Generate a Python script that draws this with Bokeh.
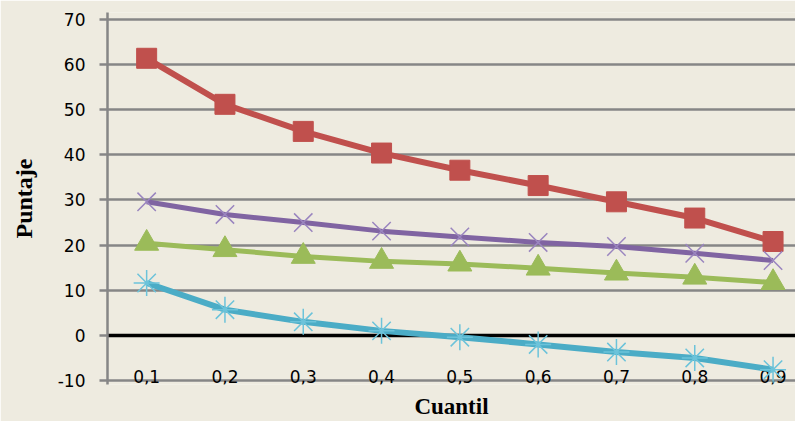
from bokeh.plotting import figure
from bokeh.models import Range1d, FixedTicker, Span, ColumnDataSource
from bokeh.core.properties import value
from bokeh.embed import file_html
from bokeh.resources import INLINE

# ---- data ----
cuantil = [0.1, 0.2, 0.3, 0.4, 0.5, 0.6, 0.7, 0.8, 0.9]
cuantil_labels = ["0,1", "0,2", "0,3", "0,4", "0,5", "0,6", "0,7", "0,8", "0,9"]
serie_roja = [61.4, 51.2, 45.2, 40.4, 36.6, 33.2, 29.6, 26.0, 20.8]
serie_verde = [20.4, 19.0, 17.5, 16.4, 15.8, 14.9, 13.8, 12.9, 11.7]
serie_morada = [29.6, 26.8, 25.0, 23.1, 21.8, 20.6, 19.7, 18.2, 16.6]
serie_celeste = [11.6, 5.7, 3.0, 1.0, -0.4, -2.0, -3.7, -5.0, -7.6]
y_ticks = [-10, 0, 10, 20, 30, 40, 50, 60, 70]

BG = "#EEEBE0"
GRID = "#868686"

# ---- layout ----
W, H = 795, 421
left, top, bottom = 107, 12, 36
px_x = 783.0
px_y = 4.525
x_start = 0.05
x_end = x_start + (W - left) / px_x
y_end = 70 + (19 - top) / px_y
y_start = y_end - (H - top - bottom) / px_y

p = figure(width=W, height=H, output_backend="svg", toolbar_location=None,
           x_range=Range1d(x_start, x_end), y_range=Range1d(y_start, y_end),
           min_border_left=left, min_border_right=0, min_border_top=top,
           min_border_bottom=bottom, background_fill_color=BG,
           border_fill_color=BG, outline_line_color=None)

p.xgrid.visible = False
p.ygrid.grid_line_color = GRID
p.ygrid.grid_line_width = 2.5
p.ygrid.ticker = FixedTicker(ticks=y_ticks)

# x axis only carries the title
xa = p.xaxis[0]
xa.ticker = FixedTicker(ticks=[])
xa.axis_line_color = None
xa.major_tick_line_color = None
xa.minor_tick_line_color = None
xa.major_label_text_font_size = "0px"
xa.axis_label = "Cuantil"
xa.axis_label_standoff = 9
xa.axis_label_text_font = "Liberation Serif"
xa.axis_label_text_font_style = "bold"
xa.axis_label_text_font_size = "23px"
xa.axis_label_text_color = "black"

ya = p.yaxis[0]
ya.ticker = FixedTicker(ticks=y_ticks)
ya.major_label_overrides = {t: str(t) for t in y_ticks}
ya.axis_line_color = GRID
ya.axis_line_width = 2.5
ya.major_tick_line_color = GRID
ya.major_tick_line_width = 2.5
ya.major_tick_out = 8
ya.major_tick_in = 0
ya.minor_tick_line_color = None
ya.major_label_standoff = 14
ya.major_label_text_font = "DejaVu Sans"
ya.major_label_text_font_size = "17px"
ya.major_label_text_color = "black"
ya.axis_label = "Puntaje"
ya.axis_label_standoff = 18
ya.axis_label_text_font = "Liberation Serif"
ya.axis_label_text_font_style = "bold"
ya.axis_label_text_font_size = "24px"
ya.axis_label_text_color = "black"

p.add_layout(Span(location=0, dimension="width", line_color="black",
                  line_width=3.5, level="underlay"))

# category labels inside plot area
src_lab = ColumnDataSource(dict(x=cuantil, y=[-10 + 4 / px_y] * len(cuantil),
                                t=cuantil_labels))
p.text(x="x", y="y", text="t", source=src_lab, text_align="center",
       text_baseline="alphabetic", text_font=value("DejaVu Sans"),
       text_font_size="17px", text_color="black")

# series
p.line(cuantil, serie_roja, line_color="#C0504D", line_width=6)
p.scatter(cuantil, serie_roja, marker="square", size=20,
          fill_color="#C0504D", line_color="#C0504D")

p.line(cuantil, serie_verde, line_color="#9BBB59", line_width=5)
p.scatter(cuantil, serie_verde, marker="triangle", size=24,
          fill_color="#9BBB59", line_color="#9BBB59")

p.line(cuantil, serie_morada, line_color="#8064A2", line_width=5)
p.scatter(cuantil, serie_morada, marker="x", size=26,
          line_color="#9A85BF", line_width=1.5)

p.line(cuantil, serie_celeste, line_color="#4BACC6", line_width=6)
p.scatter(cuantil, serie_celeste, marker="asterisk", size=26,
          line_color="#6CC3DA", line_width=1.5)

open("out.html", "w").write(file_html(p, INLINE))
